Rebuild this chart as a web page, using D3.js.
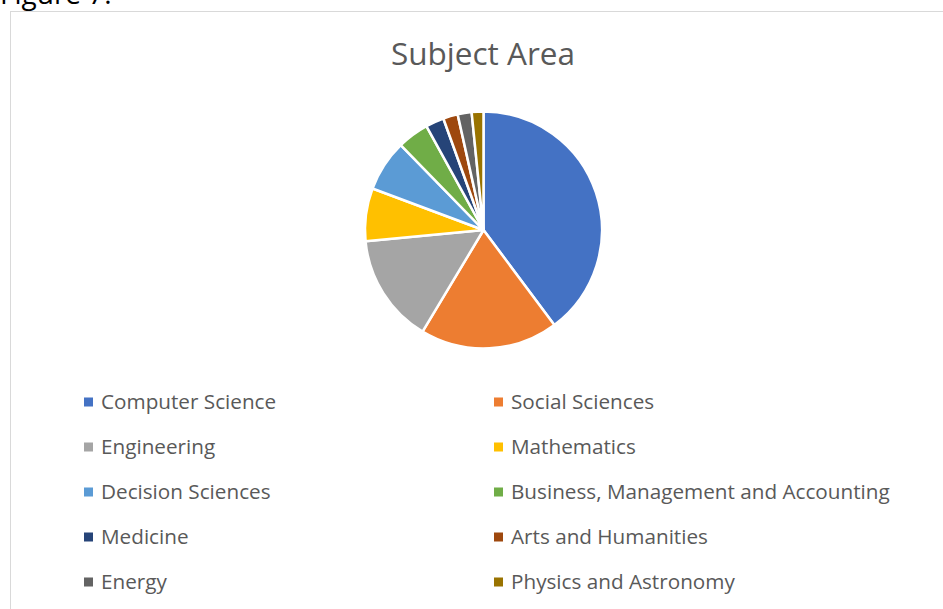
<!DOCTYPE html>
<html>
<head>
<meta charset="utf-8">
<script src="https://cdn.jsdelivr.net/npm/d3@7"></script>
<style>
    body { margin: 0; background: #fff; }
    svg text { font-family: "Open Sans", "Noto Sans", sans-serif; }
</style>
</head>
<body>
<div id="chart"></div>
<script>
// data (share of papers, %)
const subjects = ["Computer Science", "Social Sciences", "Engineering", "Mathematics",
    "Decision Sciences", "Business, Management and Accounting", "Medicine",
    "Arts and Humanities", "Energy", "Physics and Astronomy"];
const shares = [39.8, 18.8, 14.9, 7.2, 7.0, 4.3, 2.5, 2.0, 1.9, 1.6];
const colors = ["#4472C4", "#ED7D31", "#A5A5A5", "#FFC000", "#5B9BD5",
    "#70AD47", "#264478", "#9E480E", "#636363", "#997300"];

const W = 943, H = 609;

const svg = d3.select("#chart").append("svg")
    .attr("width", W)
    .attr("height", H);

// caption cut off at the top of the page
svg.append("text")
    .attr("x", 0)
    .attr("y", 4)
    .attr("font-size", 28)
    .attr("fill", "#000")
    .text("Figure 7.");

// chart frame
svg.append("rect")
    .attr("x", 10.5)
    .attr("y", 11.5)
    .attr("width", W)
    .attr("height", H)
    .attr("fill", "none")
    .attr("stroke", "#d9d9d9");

// title
svg.append("text")
    .attr("x", 483)
    .attr("y", 65)
    .attr("text-anchor", "middle")
    .attr("font-size", 31.5)
    .attr("fill", "#595959")
    .text("Subject Area");

// pie
const cx = 483.5, cy = 230, radius = 118.5;

const color = d3.scaleOrdinal().domain(subjects).range(colors);

const pie = d3.pie().sort(null).value(d => d.value);
const arc = d3.arc().innerRadius(0).outerRadius(radius);

const data = subjects.map((s, i) => ({ name: s, value: shares[i] }));

svg.append("g")
    .attr("transform", "translate(" + cx + "," + cy + ")")
    .selectAll("path")
    .data(pie(data))
    .enter().append("path")
    .attr("d", arc)
    .attr("fill", d => color(d.data.name))
    .attr("stroke", "#fff")
    .attr("stroke-width", 2.5)
    .attr("stroke-linejoin", "round");

// legend, two columns
const colX = [84, 494];
const rowY = d3.scalePoint().domain(d3.range(5)).range([402, 582]);

const legend = svg.append("g").selectAll("g")
    .data(subjects)
    .enter().append("g")
    .attr("transform", (d, i) => "translate(" + colX[i % 2] + "," + rowY(Math.floor(i / 2)) + ")");

legend.append("rect")
    .attr("x", 0)
    .attr("y", -4.5)
    .attr("width", 9)
    .attr("height", 9)
    .attr("fill", d => color(d));

legend.append("text")
    .attr("x", 17)
    .attr("y", 7)
    .attr("font-size", 20.7)
    .attr("fill", "#595959")
    .text(d => d);
</script>
</body>
</html>
